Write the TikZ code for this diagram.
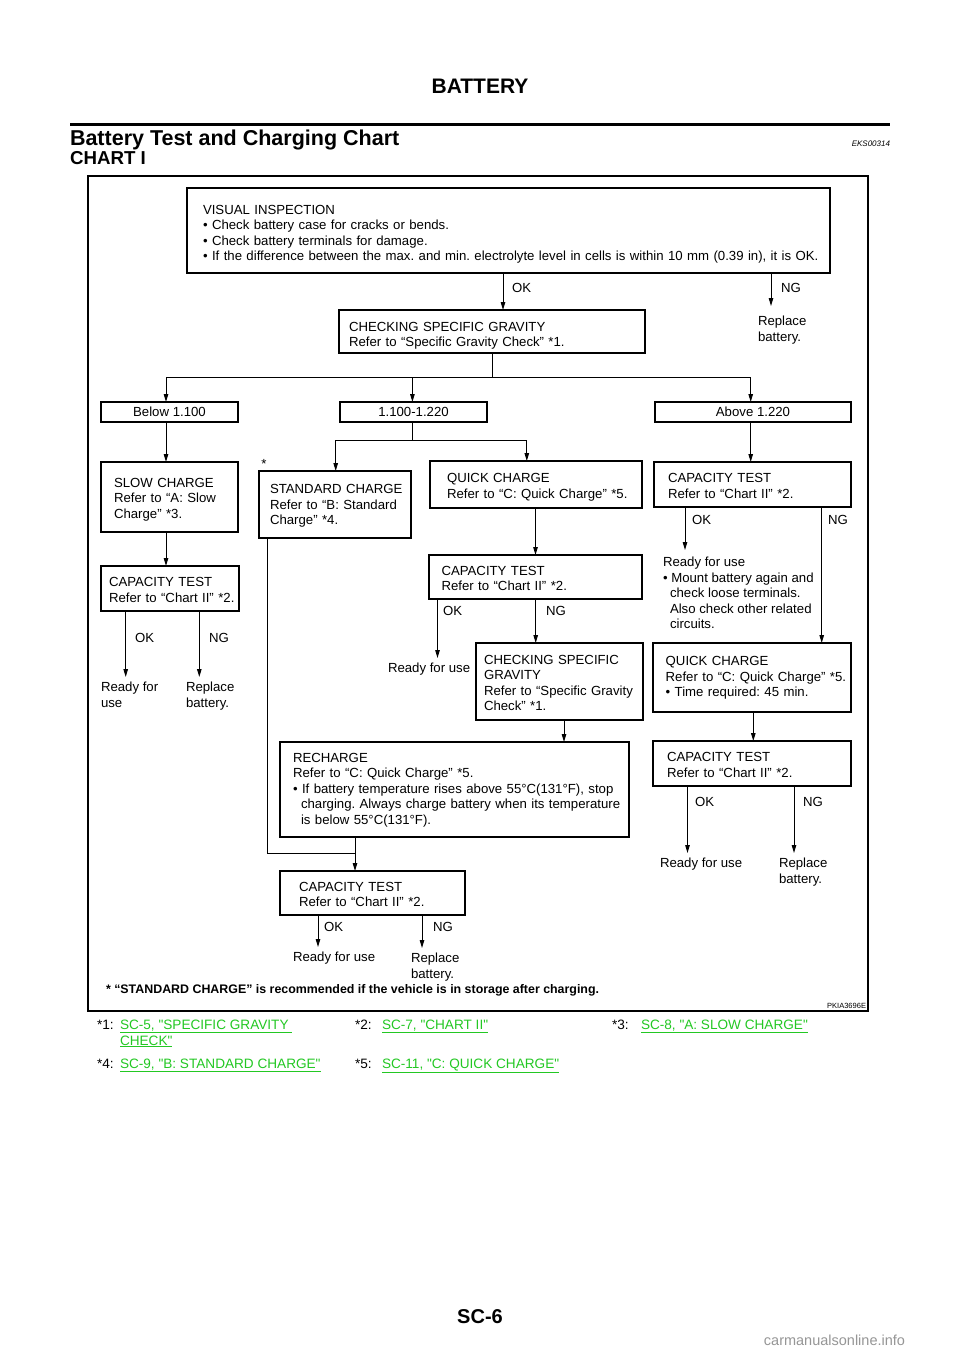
\documentclass[tikz,border=0pt]{standalone}
\usepackage{fontspec}
\setmainfont{Liberation Sans}
\newfontfamily\reffont{Liberation Sans}
\usetikzlibrary{positioning,calc,arrows.meta}
\frenchspacing

\definecolor{linkgreen}{RGB}{35,200,35}
\definecolor{markgray}{RGB}{150,150,150}

\tikzset{
  every node/.style={font=\fontsize{13.2}{15.5}\selectfont, outer sep=0pt},
  box/.style n args={4}{draw, line width=1.2pt, anchor=north west, align=left,
    inner xsep=2pt, inner ysep=0pt, text width=#1-4pt, minimum height=#2,
    execute at begin node={\leftskip=#3\relax\rule{0pt}{#4}}},
  heavy/.style={line width=2.7pt},
  rangebox/.style={draw, line width=1.2pt, anchor=north west, inner sep=0pt,
    minimum width=#1, minimum height=20pt},
  txt/.style={anchor=north west, align=left, inner sep=0pt},
  lbl/.style={anchor=west, inner sep=0pt},
  arr/.style={line width=1pt, -{Triangle[length=8pt,width=4.5pt]}},
  conn/.style={line width=1pt},
  linkfont/.style={font=\reffont\fontsize{13.6}{16}\selectfont},
  link/.style={anchor=base west, inner sep=0pt, text=linkgreen, linkfont}
}

\begin{document}
\begin{tikzpicture}[x=1pt,y=-1pt]
\path[fill=white] (0,0) rectangle (960,1358);
\useasboundingbox (0,0) rectangle (960,1358);

% page head
\node[anchor=base, font=\bfseries\fontsize{21}{21}\selectfont] (head) at (480,93) {BATTERY};
\draw[line width=2.5pt] (70,124.5) -- (890,124.5);
\node[anchor=base west, inner sep=0pt, font=\bfseries\fontsize{21.5}{21.5}\selectfont] (title) at (70,145) {Battery Test and Charging Chart};
\node[anchor=base east, inner sep=0pt, font=\itshape\fontsize{8}{8}\selectfont] (code) at (890,146) {EKS00314};
\node[anchor=base west, inner sep=0pt, font=\bfseries\fontsize{18.7}{18.7}\selectfont] (chart) at (70,164) {CHART I};

% frame
\draw[line width=1.8pt] (88,176) rectangle (868,1011);

% first checks
\node[box={643pt}{85pt}{14pt}{16.5pt}] (vis) at (187,188) {VISUAL INSPECTION\\• Check battery case for cracks or bends.\\• Check battery terminals for damage.\\• If the difference between the max. and min. electrolyte level in cells is within 10 mm (0.39 in), it is OK.};
\node[box={306pt}{43pt}{8pt}{18pt}] (spg) at (339,310) {CHECKING SPECIFIC GRAVITY\\Refer to “Specific Gravity Check” *1.};
\node[txt] (rep0) at (758,316) {Replace\\battery.};
\node[lbl] (ok0) at (512,288) {OK};
\node[lbl] (ng0) at (781,288) {NG};
\draw[arr] (503,0 |- vis.south) -- (503,0 |- spg.north);
\draw[arr, shorten >=10pt] (771,0 |- vis.south) -- (771,0 |- rep0.north);

% gravity ranges
\node[rangebox=137pt] (low) at (101,402) {Below 1.100};
\node[rangebox=147pt] (mid) at (340,402) {1.100-1.220};
\node[rangebox=196pt] (high) at (655,402) {Above 1.220};
\coordinate (fork) at (492,377);
\draw[conn] (spg.south -| fork) -- (fork);
\draw[arr] (fork) -| (166,0 |- low.north);
\draw[arr] (fork) -| (750.7,0 |- high.north);
\draw[arr] (412.4,0 |- fork) -- (412.4,0 |- mid.north);

% below 1.100
\node[box={137pt}{70pt}{11pt}{14.5pt}, heavy] (slow) at (101,462) {SLOW CHARGE\\Refer to “A: Slow\\Charge” *3.};
\node[box={138pt}{45pt}{6pt}{12.5pt}] (capl) at (101,566) {CAPACITY TEST\\Refer to “Chart II” *2.};
\node[lbl] (okl) at (135,638) {OK};
\node[lbl] (ngl) at (209,638) {NG};
\node[txt] (rdyl) at (101,682) {Ready for\\use};
\node[txt] (repl) at (186,682) {Replace\\battery.};
\draw[arr] (166,0 |- low.south) -- (166,0 |- slow.north);
\draw[arr] (166,0 |- slow.south) -- (166,0 |- capl.north);
\draw[arr, shorten >=5pt] (125.7,0 |- capl.south) -- (125.7,0 |- rdyl.north);
\draw[arr, shorten >=5pt] (199.3,0 |- capl.south) -- (199.3,0 |- repl.north);

% 1.100-1.220
\node[inner sep=0pt] (stdmark) at (264,464) {*};
\node[box={152pt}{67pt}{9pt}{12.5pt}] (std) at (259,471) {STANDARD CHARGE\\Refer to “B: Standard\\Charge” *4.};
\node[box={212pt}{47pt}{15pt}{14.5pt}, heavy] (quick) at (430,461) {QUICK CHARGE\\Refer to “C: Quick Charge” *5.};
\coordinate (fork2) at (412.4,440.7);
\draw[conn] (mid.south -| fork2) -- (fork2);
\draw[arr] (fork2) -| (335.7,0 |- std.north);
\draw[arr] (fork2) -| (526.8,0 |- quick.north);

\node[box={213pt}{44pt}{10.5pt}{12.5pt}] (capm) at (429,555) {CAPACITY TEST\\Refer to “Chart II” *2.};
\node[lbl] (okm) at (443,611) {OK};
\node[lbl] (ngm) at (546,611) {NG};
\node[txt] (rdym) at (388,663) {Ready for use};
\node[box={167pt}{77pt}{6pt}{12pt}] (spg2) at (476,643) {CHECKING SPECIFIC\\GRAVITY\\Refer to “Specific Gravity\\Check” *1.};
\draw[arr] (535.5,0 |- quick.south) -- (535.5,0 |- capm.north);
\draw[arr, shorten >=5pt] (437.5,0 |- capm.south) -- (437.5,0 |- rdym.north);
\draw[arr] (535.7,0 |- capm.south) -- (535.7,0 |- spg2.north);

\node[box={349pt}{95pt}{11pt}{10pt}, heavy] (rech) at (280,742) {RECHARGE\\Refer to “C: Quick Charge” *5.\\• If battery temperature rises above 55°C(131°F), stop\\\hspace*{8pt}charging. Always charge battery when its temperature\\\hspace*{8pt}is below 55°C(131°F).};
\draw[arr] (564,0 |- spg2.south) -- (564,0 |- rech.north);

\node[box={185pt}{44pt}{17pt}{12.5pt}] (capb) at (280,871) {CAPACITY TEST\\Refer to “Chart II” *2.};
\node[lbl] (okb) at (324,927) {OK};
\node[lbl] (ngb) at (433,927) {NG};
\node[txt] (rdyb) at (293,952) {Ready for use};
\node[txt] (repb) at (411,953) {Replace\\battery.};
\coordinate (bend) at (355,853.3);
\draw[conn] (267,0 |- std.south) |- (bend);
\draw[arr] (rech.south -| bend) -- (capb.north -| bend);
\draw[arr, shorten >=5pt] (318,0 |- capb.south) -- (318,0 |- rdyb.north);
\draw[arr, shorten >=5pt] (422,0 |- capb.south) -- (422,0 |- repb.north);

% above 1.220
\node[box={197pt}{45pt}{12pt}{12.5pt}] (capr) at (654,462) {CAPACITY TEST\\Refer to “Chart II” *2.};
\node[lbl] (okr) at (692,520) {OK};
\node[lbl] (ngr) at (828,520) {NG};
\node[txt] (rdyr) at (663,557) {Ready for use\\• Mount battery again and\\\hspace*{7pt}check loose terminals.\\\hspace*{7pt}Also check other related\\\hspace*{7pt}circuits.};
\node[box={198pt}{69pt}{10.7pt}{10pt}, heavy] (quickr) at (653,643) {QUICK CHARGE\\Refer to “C: Quick Charge” *5.\\• Time required: 45 min.};
\node[box={198pt}{45pt}{12pt}{12.5pt}] (capr2) at (653,741) {CAPACITY TEST\\Refer to “Chart II” *2.};
\node[lbl] (okr2) at (695,802) {OK};
\node[lbl] (ngr2) at (803,802) {NG};
\node[txt] (rdyr2) at (660,858) {Ready for use};
\node[txt] (repr2) at (779,858) {Replace\\battery.};
\draw[arr] (750.7,0 |- high.south) -- (750.7,0 |- capr.north);
\draw[arr, shorten >=7pt] (685,0 |- capr.south) -- (685,0 |- rdyr.north);
\draw[arr] (821.7,0 |- capr.south) -- (821.7,0 |- quickr.north);
\draw[arr] (753.3,0 |- quickr.south) -- (753.3,0 |- capr2.north);
\draw[arr, shorten >=5pt] (687.5,0 |- capr2.south) -- (687.5,0 |- rdyr2.north);
\draw[arr, shorten >=5pt] (794,0 |- capr2.south) -- (794,0 |- repr2.north);

% notes
\node[anchor=base west, inner sep=0pt, font=\bfseries\fontsize{12.4}{14}\selectfont] (note) at (106,993.5) {* “STANDARD CHARGE” is recommended if the vehicle is in storage after charging.};
\node[anchor=base east, inner sep=0pt, font=\fontsize{7.5}{8}\selectfont] (fig) at (866,1008) {PKIA3696E};

% references
\node[anchor=base west, inner sep=0pt, linkfont] (m1) at (97,1029) {*1:};
\node[link] (r1) at (120,1029) {\underline{SC-5, "SPECIFIC GRAVITY }};
\node[link] (r1b) at (120,1045) {\underline{CHECK"}};
\node[anchor=base west, inner sep=0pt, linkfont] (m2) at (355,1029) {*2:};
\node[link] (r2) at (382,1029) {\underline{SC-7, "CHART II"}};
\node[anchor=base west, inner sep=0pt, linkfont] (m3) at (612,1029) {*3:};
\node[link] (r3) at (641,1029) {\underline{SC-8, "A: SLOW CHARGE"}};
\node[anchor=base west, inner sep=0pt, linkfont] (m4) at (97,1068) {*4:};
\node[link] (r4) at (120,1068) {\underline{SC-9, "B: STANDARD CHARGE"}};
\node[anchor=base west, inner sep=0pt, linkfont] (m5) at (355,1068) {*5:};
\node[link] (r5) at (382,1068) {\underline{SC-11, "C: QUICK CHARGE"}};

% page foot
\node[anchor=base, font=\bfseries\fontsize{20}{20}\selectfont] (page) at (480,1323) {SC-6};
\node[anchor=base east, inner sep=0pt, text=markgray, font=\fontsize{14.5}{14.5}\selectfont] (mark) at (905,1345) {carmanualsonline.info};
\end{tikzpicture}
\end{document}
